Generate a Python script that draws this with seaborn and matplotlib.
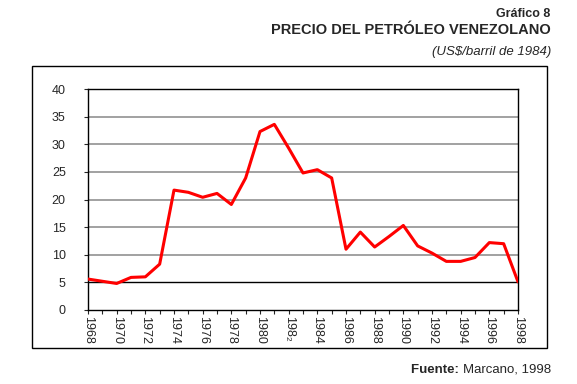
import matplotlib
matplotlib.use("Agg")
import matplotlib.pyplot as plt
import numpy as np
import pandas as pd
import seaborn as sns
from matplotlib.patches import Rectangle
from matplotlib.ticker import MultipleLocator

years = list(range(1968, 1999))
prices = [5.6, 5.2, 4.8, 5.9, 6.0, 8.3, 21.7, 21.3, 20.4, 21.1, 19.1, 23.9,
          32.3, 33.6, 29.3, 24.8, 25.4, 23.9, 11.0, 14.1, 11.4, 13.3, 15.3,
          11.6, 10.3, 8.8, 8.8, 9.5, 12.2, 12.0, 5.1]
tick_years = list(range(1968, 1999, 2))
tick_labels = [str(y) if y != 1982 else "198\u2082" for y in tick_years]
y_ticks = [0, 5, 10, 15, 20, 25, 30, 35, 40]
grid_levels = [10, 15, 20, 25, 30, 35]

sns.set_style("white")
plt.rcParams["font.family"] = ["Liberation Sans", "DejaVu Sans"]

df = pd.DataFrame({"year": years, "price": prices})

W, H = 577, 384
fig = plt.figure(figsize=(W / 100, H / 100), dpi=100)

# outer frame around the chart
fig.patches.append(Rectangle((32 / W, 1 - 348 / H), 515 / W, 282 / H,
                             transform=fig.transFigure, fill=False,
                             edgecolor="black", linewidth=1.0))
ax = fig.add_axes([88 / W, 1 - 310 / H, 430 / W, 221 / H])

for lvl in grid_levels:
    ax.axhline(lvl, color="#9a9a9a", linewidth=1.3, zorder=1)
ax.axhline(5, color="black", linewidth=1.0, zorder=1)

sns.lineplot(data=df, x="year", y="price", color="#ff0000", linewidth=2.2,
             ax=ax, zorder=3)

ax.set_xlim(1968, 1998)
ax.set_ylim(0, 40)
ax.set_xticks(tick_years)
ax.set_xticklabels(tick_labels, rotation=270, fontsize=9)
ax.xaxis.set_minor_locator(MultipleLocator(1))
ax.set_yticks(y_ticks)
ax.set_yticklabels([str(v) for v in y_ticks], fontsize=9)
ax.tick_params(axis="x", which="both", direction="out", length=3, width=0.8,
               bottom=True, pad=1)
ax.tick_params(axis="y", direction="out", length=3, width=0.8, left=True, pad=13)
ax.set_xlabel("")
ax.set_ylabel("")
for sp in ax.spines.values():
    sp.set_color("black")
    sp.set_linewidth(1.0)

fig.text(550 / W, 1 - 17.3 / H, "Gráfico 8", ha="right", va="baseline",
         fontsize=9, fontweight="bold")
fig.text(551 / W, 1 - 34.3 / H, "PRECIO DEL PETRÓLEO VENEZOLANO", ha="right",
         va="baseline", fontsize=10.5, fontweight="bold")
fig.text(551 / W, 1 - 55 / H, "(US$/barril de 1984)", ha="right",
         va="baseline", fontsize=9.5, style="italic")
src = fig.text(551 / W, 1 - 372.7 / H, "Marcano, 1998", ha="right",
               va="baseline", fontsize=9.5)
ax.annotate("Fuente: ", xy=(0, 0), xycoords=src, ha="right", va="bottom",
            fontsize=9.5, fontweight="bold")

fig.savefig("out.png", dpi=100)
